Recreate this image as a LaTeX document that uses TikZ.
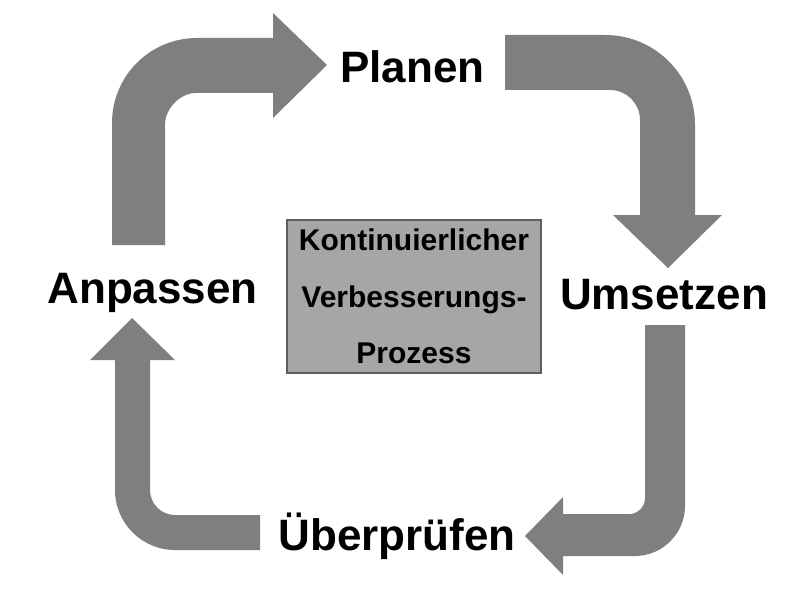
\documentclass[tikz,border=0pt]{standalone}
\usepackage{fontspec}
\setmainfont{Liberation Sans}
\definecolor{arrowgray}{HTML}{7F7F7F}
\definecolor{boxgray}{HTML}{A6A6A6}
\definecolor{boxline}{HTML}{5E5E5E}
\tikzset{
  blockarrow/.style={fill=arrowgray, draw=none},
  steplabel/.style={font=\fontsize{44}{44}\selectfont\bfseries, inner sep=0pt, anchor=base},
  centerbox/.style={draw=boxline, line width=1.2pt, fill=boxgray, minimum width=254pt, minimum height=153pt, inner sep=0pt, align=center, font=\fontsize{30}{56.5}\selectfont\bfseries}
}
\begin{document}
\begin{tikzpicture}[x=1pt,y=-1pt]
\useasboundingbox (0,0) rectangle (788,594);
\fill[white] (0,0) rectangle (788,594);
% top-left arrow (Anpassen -> Planen)
\path[blockarrow] (112,245) -- (112,123) .. controls (112,76) and (150,38) .. (197,38)
  -- (273,38) -- (273,13) -- (327,65) -- (273,118) -- (273,93) -- (196,93)
  .. controls (179,93) and (165,110) .. (165,124) -- (165,245) -- cycle;
% top-right arrow (Planen -> Umsetzen)
\path[blockarrow] (505,35) -- (605,35) .. controls (655,35) and (695,75) .. (695,125)
  -- (695,215) -- (722,215) -- (668,268) -- (613,215) -- (640,215) -- (640,120)
  .. controls (640,103.4) and (626.6,90) .. (610,90) -- (505,90) -- cycle;
% bottom-right arrow (Umsetzen -> Ueberpruefen)
\path[blockarrow] (645,325) -- (685,325) -- (685,506) .. controls (685,533.6) and (662.4,556) .. (635,556)
  -- (563,556) -- (563,575) -- (525,536) -- (563,497) -- (563,514) -- (630,514)
  .. controls (638.3,514) and (645,505.7) .. (645,499) -- cycle;
% bottom-left arrow (Ueberpruefen -> Anpassen)
\path[blockarrow] (260,515) -- (175,515) .. controls (161.2,515) and (150,503.8) .. (150,490)
  -- (150,360) -- (175,360) -- (132,318) -- (90,360) -- (115,360) -- (115,490)
  .. controls (115,523.1) and (141.9,550) .. (175,550) -- (260,550) -- cycle;
% labels
\node[steplabel] (planen) at (412.5,83) {Planen};
\node[steplabel] (umsetzen) at (664,309) {Umsetzen};
\node[steplabel] (pruefen) at (397,550) {Überprüfen};
\node[steplabel] (anpassen) at (152.5,303) {Anpassen};
% center box
\node[centerbox] (kvp) at (414,296.5) {Kontinuierlicher\\Verbesserungs-\\Prozess};
\end{tikzpicture}
\end{document}
